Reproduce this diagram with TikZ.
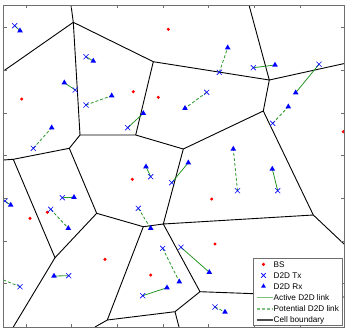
\documentclass[tikz,border=0pt]{standalone}
\usepackage{fontspec}
\setsansfont{Liberation Sans}
\usetikzlibrary{shapes.geometric, shapes.misc, positioning}
\definecolor{bscolor}{RGB}{255,0,0}
\definecolor{uecolor}{RGB}{0,0,255}
\definecolor{linkcolor}{RGB}{40,150,40}
\definecolor{framecolor}{RGB}{110,110,110}

\begin{document}
\begin{tikzpicture}[
    x=1pt, y=-1pt,
    bs/.style={circle, fill=bscolor, inner sep=0pt, minimum size=3.4pt},
    txmark/.style={cross out, draw=uecolor, line width=0.6pt, inner sep=0pt, minimum size=4.5pt},
    rxmark/.style={regular polygon, regular polygon sides=3, fill=uecolor, inner sep=0pt, minimum size=6.5pt},
    active/.style={draw=linkcolor, line width=0.8pt},
    potential/.style={draw=linkcolor, line width=0.8pt, dash pattern=on 3pt off 2pt},
    cell/.style={draw=black, line width=0.9pt},
    legline/.style={line width=1.4pt},
    legtext/.style={anchor=base west, inner sep=0pt, font=\sffamily\fontsize{8.2}{9}\selectfont}
]
    \useasboundingbox (0,0) rectangle (349,333);

    % cell vertices
    \coordinate (vA) at (73.3,22.3);
    \coordinate (vB) at (153.3,61.7);
    \coordinate (vC) at (80,135);
    \coordinate (vD) at (269.3,80);
    \coordinate (vE) at (135.7,135);
    \coordinate (vF) at (69.3,148.3);
    \coordinate (vG) at (183.3,149);
    \coordinate (vH) at (263.3,111);
    \coordinate (vI) at (163.3,224);
    \coordinate (vJ) at (313.3,215);
    \coordinate (vK) at (143.3,226.7);
    \coordinate (vL) at (200,291.7);
    \coordinate (vM) at (13.3,159.3);
    \coordinate (vN) at (96.7,213.3);
    \coordinate (vO) at (55,257.7);
    \coordinate (vP) at (107.3,320);
    \coordinate (vQ) at (175,311.7);
    % where the cells leave the axes
    \coordinate (eA1) at (71,5);
    \coordinate (eA2) at (3.5,71);
    \coordinate (eD1) at (249,5);
    \coordinate (eD2) at (344,63.6);
    \coordinate (eJ) at (344,244);
    \coordinate (eL) at (344,297);
    \coordinate (eM) at (3.5,160);
    \coordinate (eO) at (13.3,327);
    \coordinate (eP) at (95,327);
    \coordinate (eQ) at (179,327);

    \begin{scope}
    \clip (3.5,5) rectangle (344,327);

    \draw[cell] (eA1) -- (vA) -- (eA2);
    \draw[cell] (vA) -- (vB) -- (vD);
    \draw[cell] (vA) -- (vC) -- (vE) -- (vB);
    \draw[cell] (vC) -- (vF) -- (vM) -- (eM);
    \draw[cell] (vE) -- (vG) -- (vH) -- (vD);
    \draw[cell] (eD1) -- (vD) -- (eD2);
    \draw[cell] (vH) -- (vJ) -- (eJ);
    \draw[cell] (vG) -- (vI) -- (vJ);
    \draw[cell] (vI) -- (vK) -- (vN) -- (vF);
    \draw[cell] (vM) -- (vO) -- (vN);
    \draw[cell] (vO) -- (eO);
    \draw[cell] (vK) -- (vP) -- (eP);
    \draw[cell] (vP) -- (vQ) -- (eQ);
    \draw[cell] (vQ) -- (vL) -- (vI);
    \draw[cell] (vL) -- (eL);

    % base stations
    \foreach \i/\x/\y in {1/168.3/29.3, 2/21.7/99, 3/133.3/91.7, 4/158.3/97.3,
        5/343.3/131.7, 6/132.3/179.3, 7/30/218.3, 8/47.3/212.3,
        9/105/259.3, 10/150.7/275, 11/211.7/199, 12/215/244}
        \node[bs] (bs\i) at (\x,\y) {};

    % D2D pairs: Tx, Rx, link
    \foreach \i/\tx/\ty/\rx/\ry/\kind in {
        1/14.7/25.7/20/30.7/active, 2/86/56.7/93.3/61/active,
        3/75.3/90/64.3/82.7/active, 4/86/105/111.7/95.7/potential,
        5/33.3/148.3/51.7/127.7/potential, 6/127.7/127.7/143.3/113.3/active,
        7/150.7/176.7/146/166.7/active, 8/219.3/72.3/227.7/47.7/potential,
        9/253.3/67.7/275/65/active, 10/319/64.3/295.7/92.7/active,
        11/206.7/92.3/185/108.3/potential, 12/272.7/123.3/288.3/106.7/potential,
        13/237.5/190.7/233.3/149/potential, 14/171.7/182.7/188.3/162.7/active,
        15/277.7/190.7/272.3/169/active, 16/5/201/10.7/205/active,
        17/62.3/197.7/74/197.3/active, 18/50.7/209.3/68.3/228.3/potential,
        19/68.7/275.7/54/276/active, 21/138.3/208.3/150.7/228.3/potential,
        22/162.7/248.3/179.3/281.7/potential, 23/142.7/295.7/167/287.7/active,
        24/181/247.3/209.3/272.3/active, 25/215/307/225/312/potential} {
        \coordinate (t\i) at (\tx,\ty);
        \coordinate (r\i) at (\rx,\ry);
        \draw[\kind] (t\i) -- (r\i);
        \node[txmark] (tx\i) at (t\i) {};
        \node[rxmark] (rx\i) at (r\i) {};
    }
    % Rx of this pair lies outside the axes
    \coordinate (t20) at (20,286.7);
    \coordinate (r20) at (3.5,280);
    \draw[potential] (t20) -- (r20);
    \node[txmark] (tx20) at (t20) {};
    \end{scope}

    % axes
    \draw[framecolor, line width=0.8pt] (3.5,5) rectangle (344,327);
    \foreach \x in {26,71.7,117.3,163,208.6,254.3,300} {
        \draw[framecolor, line width=0.5pt] (\x,5) -- (\x,8);
        \draw[framecolor, line width=0.5pt] (\x,327) -- (\x,324);
    }
    \foreach \y in {27.5,70.2,112.9,155.6,198.3,241,283.7} {
        \draw[framecolor, line width=0.5pt] (3.5,\y) -- (6.5,\y);
        \draw[framecolor, line width=0.5pt] (344,\y) -- (341,\y);
    }

    % legend
    \node[draw=framecolor, fill=white, line width=0.6pt, minimum width=89pt,
          minimum height=67pt, inner sep=0pt] (legend) at (298,292) {};
    \node[bs] (legbs) at (263.5,264.4) {};
    \node[txmark, minimum size=3.8pt, line width=0.8pt] (legtx) at (263.5,275.4) {};
    \node[rxmark, minimum size=5.5pt] (legrx) at (263.5,286.2) {};
    \coordinate (la1) at (256.5,297.7);
    \coordinate (la2) at (272.5,297.7);
    \coordinate (lp1) at (256.5,308.9);
    \coordinate (lp2) at (272.5,308.9);
    \coordinate (lc1) at (256.5,320);
    \coordinate (lc2) at (272.5,320);
    \draw[active, legline, draw=linkcolor!60] (la1) -- (la2);
    \draw[potential, legline, draw=linkcolor!60] (lp1) -- (lp2);
    \draw[cell, legline, draw=black!70] (lc1) -- (lc2);
    \node[legtext] (legbstext) at (273.5,267.3) {BS};
    \node[legtext] (legtxtext) at (273.5,278.4) {D2D Tx};
    \node[legtext] (legrxtext) at (273.5,289.4) {D2D Rx};
    \node[legtext] (legatext) at (273.5,300.6) {Active D2D link};
    \node[legtext] (legptext) at (273.5,311.8) {Potential D2D link};
    \node[legtext] (legctext) at (273.5,322.9) {Cell boundary};
\end{tikzpicture}
\end{document}
